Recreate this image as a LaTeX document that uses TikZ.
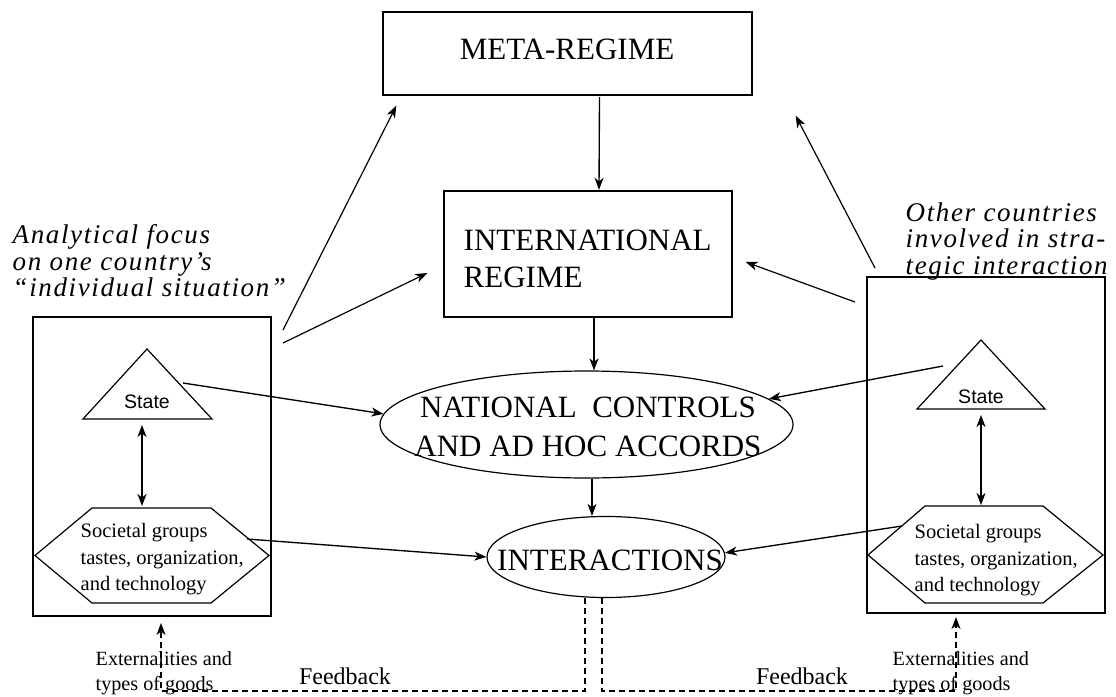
\documentclass[tikz,border=0pt]{standalone}
\usepackage{fontspec}
\setmainfont{Liberation Serif}
\newfontfamily\annfont[LetterSpace=6]{Liberation Serif}
\newfontfamily\statefont{Liberation Sans}
\usetikzlibrary{arrows.meta,shapes.geometric,calc}
\begin{document}
\begin{tikzpicture}[x=1pt,y=-1pt,line width=1.35pt,
  box/.style={draw,rectangle,inner sep=0pt},
  oval/.style={draw,ellipse,inner sep=0pt,line width=1.2pt},
  arr/.style={-{Stealth[length=12pt,width=9pt,inset=3.5pt]}},
  dbl/.style={{Stealth[length=12pt,width=9pt,inset=3.5pt]}-{Stealth[length=12pt,width=9pt,inset=3.5pt]}},
  fb/.style={dash pattern=on 6pt off 4pt,line width=1.2pt},
  shp/.style={line width=1.2pt},
  caps/.style={font=\fontsize{31}{37}\selectfont,inner sep=0pt},
  statetxt/.style={font=\statefont\fontsize{19.5}{22}\selectfont,inner sep=0pt},
  soctxt/.style={font=\fontsize{20.5}{26.5}\selectfont,inner sep=0pt,align=left},
  exttxt/.style={font=\fontsize{20.2}{25}\selectfont,inner sep=0pt,align=left},
  fbtxt/.style={font=\fontsize{24}{28}\selectfont,inner sep=0pt},
  anntxt/.style={font=\annfont\itshape\fontsize{27}{26.5}\selectfont,inner sep=0pt,align=left}]
\fill[white] (0,0) rectangle (1116,696);
\useasboundingbox (0,0) rectangle (1116,696);

% central boxes and ovals
\node[box,minimum width=369,minimum height=83] (meta) at (567.5,53.5) {};
\node[caps,anchor=base] (metatxt) at (567,59) {META-REGIME};
\node[box,minimum width=288,minimum height=126] (int) at (588,254) {};
\node[caps,anchor=north west,align=left] (inttxt) at (463,229.5) {INTERNATIONAL\\REGIME};
\node[oval,minimum width=413,minimum height=107] (nat) at (586.5,424.5) {};
\node[caps,align=center,font=\fontsize{31}{39}\selectfont] (nattxt) at (588,427) {NATIONAL\ \ CONTROLS\\AND AD HOC ACCORDS};
\node[oval,minimum width=238,minimum height=81] (inter) at (606,557) {};
\node[caps,anchor=base] (intertxt) at (610,570) {INTERACTIONS};

% country boxes
\node[box,minimum width=238,minimum height=299] (lbox) at (152,466.5) {};
\node[box,minimum width=238,minimum height=336] (rbox) at (986,445) {};

% triangles
\draw[shp] (147,349) -- (212,419) -- (83,419) -- cycle;
\draw[shp] (981,340) -- (1045,409) -- (917,409) -- cycle;
\node[statetxt,anchor=base] (lstate) at (147,408) {State};
\node[statetxt,anchor=base] (rstate) at (981,403) {State};

% hexagons
\draw[shp] (92,508) -- (211,508) -- (269,555.5) -- (211,603) -- (92,603) -- (35,555.5) -- cycle;
\draw[shp] (925,506) -- (1043,506) -- (1103,555) -- (1043,603) -- (925,603) -- (868,555) -- cycle;
\node[soctxt,anchor=north west] (lsoc) at (80,523) {Societal groups\\tastes, organization,\\and technology};
\node[soctxt,anchor=north west] (rsoc) at (914,524) {Societal groups\\tastes, organization,\\and technology};

% annotations
\node[anntxt,anchor=north west] (lann) at (12,224) {Analytical focus\\on one country’s\\“individual situation”};
\node[anntxt,anchor=north west] (rann) at (905,202) {Other countries\\involved in stra-\\tegic interaction};

% bottom texts
\node[exttxt,anchor=north west] (lext) at (95,651) {Externalities and\\types of goods};
\node[exttxt,anchor=north west] (rext) at (892,651) {Externalities and\\types of goods};
\node[fbtxt,anchor=base] (lfbt) at (345,684) {Feedback};
\node[fbtxt,anchor=base] (rfbt) at (802,684) {Feedback};

% named free ends
\coordinate (lo1) at (283,330);
\coordinate (lo2) at (283,343);
\coordinate (ro1) at (875,268);
\coordinate (ro2) at (855,302);
\coordinate (lsout) at (183,383);
\coordinate (rsout) at (943,366);
\coordinate (lhout) at (247,539);
\coordinate (rhout) at (902,526);
\coordinate (lsd1) at (142,425);
\coordinate (lsd2) at (142,506);
\coordinate (rsd1) at (981,415);
\coordinate (rsd2) at (981,505);
\coordinate (lfb) at (161,691);
\coordinate (rfb) at (956,691);
\coordinate (lextup) at (161,623);
\coordinate (rextup) at (956,617);

% connectors
\draw[arr] ([shift={(32,1.5)}]meta.south) -- ([shift={(11,-0.5)}]int.north);
\draw[arr] ([shift={(6,0.5)}]int.south) -- ([shift={(7.5,0)}]nat.north);
\draw[arr] ([shift={(5.5,0.5)}]nat.south) -- ([shift={(-14,0)}]inter.north);
\draw[arr,line width=1.2pt] (lo1) -- ([shift={(14,10)}]meta.south west);
\draw[arr,line width=1.2pt] (lo2) -- ([shift={(-16,19)}]int.west);
\draw[arr,line width=1.2pt] (ro1) -- ([shift={(43,20)}]meta.south east);
\draw[arr,line width=1.2pt] (ro2) -- ([shift={(13,8)}]int.east);
\draw[arr] (lsout) -- (nat.177);
\draw[arr] (rsout) -- (nat.8);
\draw[arr] (lhout) -- (inter.west);
\draw[arr] (rhout) -- (inter.2);
\draw[dbl] (lsd1) -- (lsd2);
\draw[dbl] (rsd1) -- (rsd2);
\draw[fb,arr] ([shift={(-21,-0.5)}]inter.south) |- (lfb) -- (lextup);
\draw[fb,arr] ([shift={(-4,-0.5)}]inter.south) |- (rfb) -- (rextup);
\end{tikzpicture}
\end{document}
